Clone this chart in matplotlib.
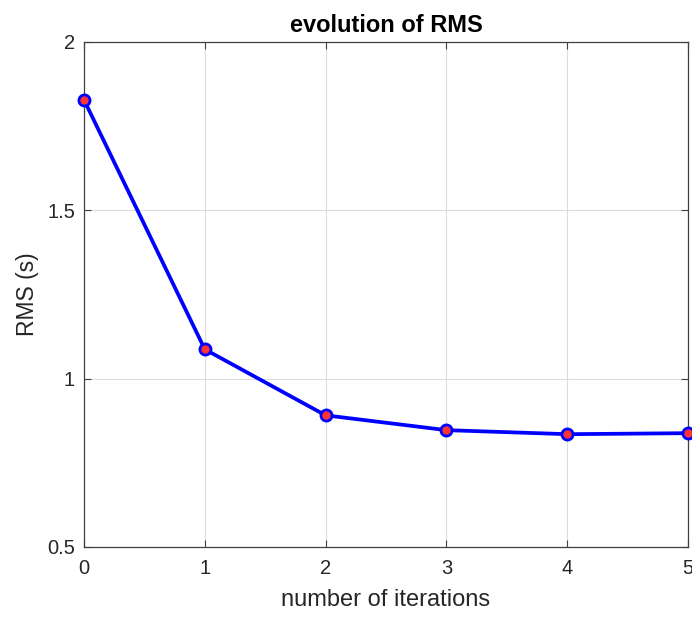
import matplotlib
matplotlib.use("Agg")
import matplotlib.pyplot as plt

iterations = [0, 1, 2, 3, 4, 5]
rms = [1.828, 1.087, 0.891, 0.847, 0.835, 0.838]
yticks = [0.5, 1, 1.5, 2]
yticklabels = ["0.5", "1", "1.5", "2"]

plt.rcParams['font.family'] = ['Liberation Sans', 'DejaVu Sans']

fig = plt.figure(figsize=(6.92, 6.17), dpi=100)
ax = fig.add_axes([0.1214, 0.1135, 0.8728, 0.8185])

ax.plot(iterations, rms, color=(0, 0, 1), linewidth=2.7, marker='o',
        markersize=8, markerfacecolor=(1, 0.2, 0.2), markeredgecolor=(0, 0, 1),
        markeredgewidth=2, zorder=3, clip_on=False)

ax.set_xlim(0, 5)
ax.set_ylim(0.5, 2)
ax.set_xticks(iterations)
ax.set_yticks(yticks)
ax.set_yticklabels(yticklabels)
ax.grid(True, color='#dcdcdc', linewidth=0.8)
ax.set_axisbelow(True)
ax.tick_params(direction='in', top=True, right=True, labelsize=14.5,
               length=5, width=0.8, colors='#404040', labelcolor='#262626')
ax.tick_params(axis='y', pad=6.5)
ax.tick_params(axis='x', pad=8.5)
for s in ax.spines.values():
    s.set_color('#404040')
    s.set_linewidth(0.9)

ax.set_xlabel('number of iterations', fontsize=17, color='#262626', labelpad=8)
ax.set_ylabel('RMS (s)', fontsize=16.5, color='#262626', labelpad=6)
ax.set_title('evolution of RMS', fontsize=17, fontweight='bold', color='black', pad=7)

fig.savefig('out.png', dpi=100, facecolor='white')
